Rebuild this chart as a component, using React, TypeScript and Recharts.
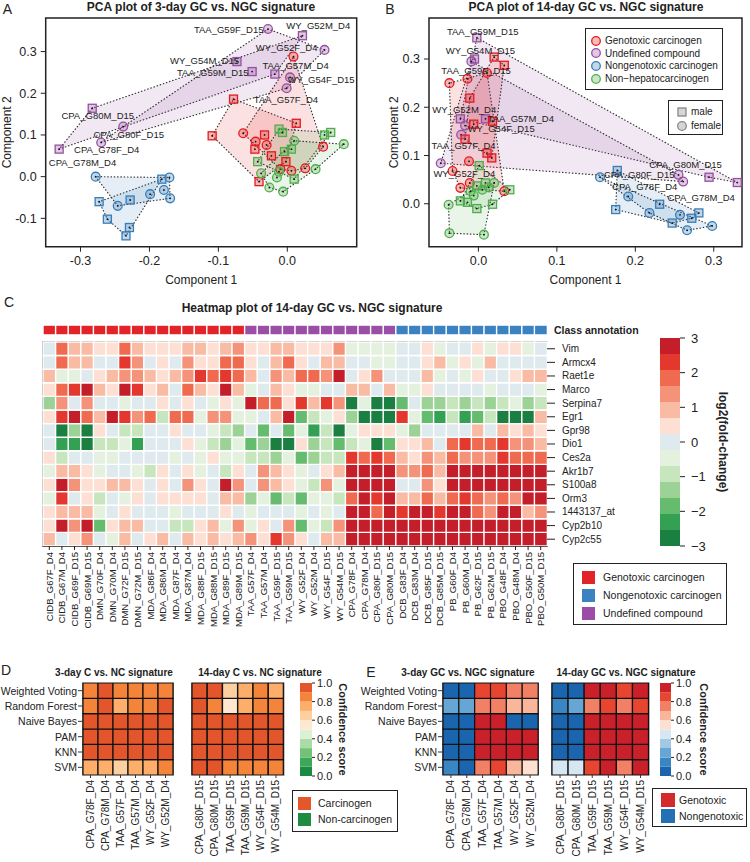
import React from 'react';
import { ScatterChart, Scatter, XAxis, YAxis, ReferenceArea, BarChart, Bar, Cell, Legend } from 'recharts';

const FONT = '"Liberation Sans", Arial, Helvetica, sans-serif';
const INK = '#222';
const RED = '#e41a1c';
const PURPLE = '#984ea3';
const BLUE = '#377eb8';
const GREEN = '#4daf4a';

// ---------------- PCA data (Component 1, Component 2, sex) ----------------
const p = (x, y, sex) => ({ x, y, sex });

const pcaA_genotoxic = [
  p(-0.078, 0.186, 'M'), p(0.013, 0.128, 'M'), p(-0.109, 0.098, 'M'), p(-0.033, 0.1, 'M'),
  p(-0.047, 0.066, 'M'), p(-0.023, 0.05, 'M'), p(-0.002, 0.036, 'M'), p(-0.041, -0.012, 'M'),
  p(0.009, 0.288, 'F'), p(-0.064, 0.104, 'F'), p(-0.046, 0.084, 'F'), p(-0.03, 0.076, 'F'),
  p(0.052, 0.072, 'F'), p(-0.01, 0.018, 'F'), p(0.006, 0.014, 'F'), p(0.026, 0.02, 'F'),
];
const pcaA_undefined = [
  p(0.022, 0.338, 'M'), p(-0.073, 0.276, 'M'), p(-0.051, 0.252, 'M'), p(-0.018, 0.246, 'M'),
  p(-0.283, 0.164, 'M'), p(-0.331, 0.066, 'M'),
  p(-0.028, 0.354, 'F'), p(0.054, 0.304, 'F'), p(0.004, 0.238, 'F'), p(-0.001, 0.212, 'F'),
  p(-0.238, 0.12, 'F'), p(-0.27, 0.082, 'F'),
];
const pcaA_nongenotoxic = [
  p(-0.278, 0.0, 'F'), p(-0.171, -0.002, 'F'), p(-0.179, -0.032, 'F'), p(-0.199, -0.042, 'F'),
  p(-0.17, -0.052, 'F'), p(-0.246, -0.07, 'F'),
  p(-0.182, -0.006, 'M'), p(-0.273, -0.06, 'M'), p(-0.228, -0.056, 'M'), p(-0.261, -0.102, 'M'),
  p(-0.229, -0.122, 'M'), p(-0.234, -0.142, 'M'),
];
const pcaA_nonhep = [
  p(-0.012, 0.114, 'M'), p(-0.007, 0.106, 'M'), p(0.054, 0.1, 'M'), p(0.063, 0.106, 'M'),
  p(0.006, 0.066, 'M'), p(-0.004, 0.06, 'M'), p(-0.043, 0.036, 'M'), p(0.01, -0.006, 'M'),
  p(0.01, 0.086, 'F'), p(0.082, 0.078, 'F'), p(0.041, 0.018, 'F'), p(-0.038, 0.008, 'F'),
  p(-0.015, -0.002, 'F'), p(-0.026, -0.026, 'F'), p(-0.006, -0.036, 'F'), p(-0.012, 0.012, 'F'),
];
const pcaA_labels = [
  { name: 'TAA_G59F_D15', x: -0.085, y: 0.354 },
  { name: 'WY_G52M_D4', x: 0.045, y: 0.362 },
  { name: 'WY_G52F_D4', x: -0.001, y: 0.31 },
  { name: 'WY_G54M_D15', x: -0.12, y: 0.278 },
  { name: 'TAA_G59M_D15', x: -0.108, y: 0.25 },
  { name: 'TAA_G57M_D4', x: 0.012, y: 0.266 },
  { name: 'WY_G54F_D15', x: 0.049, y: 0.234 },
  { name: 'TAA_G57F_D4', x: -0.002, y: 0.186 },
  { name: 'CPA_G80M_D15', x: -0.275, y: 0.146 },
  { name: 'CPA_G80F_D15', x: -0.23, y: 0.1 },
  { name: 'CPA_G78F_D4', x: -0.262, y: 0.064 },
  { name: 'CPA_G78M_D4', x: -0.297, y: 0.034 },
];

const pcaB_genotoxic = [
  p(0.02, 0.304, 'M'), p(0.033, 0.287, 'M'), p(-0.011, 0.219, 'M'), p(-0.017, 0.134, 'M'),
  p(-0.006, 0.165, 'M'), p(0.018, 0.171, 'M'), p(0.011, 0.105, 'M'), p(0.017, 0.095, 'M'),
  p(-0.037, 0.25, 'F'), p(-0.014, 0.259, 'F'), p(0.011, 0.271, 'F'), p(-0.012, 0.088, 'F'),
  p(-0.033, 0.068, 'F'), p(-0.011, 0.043, 'F'), p(-0.023, 0.033, 'F'), p(0.033, 0.026, 'F'),
];
const pcaB_undefined = [
  p(-0.002, 0.344, 'M'), p(-0.005, 0.3, 'M'), p(-0.023, 0.176, 'M'), p(0.009, 0.176, 'M'),
  p(0.294, 0.055, 'M'), p(0.33, 0.044, 'M'),
  p(-0.009, 0.295, 'F'), p(-0.017, 0.162, 'F'), p(-0.022, 0.143, 'F'), p(-0.048, 0.084, 'F'),
  p(0.255, 0.06, 'F'), p(0.261, 0.046, 'F'),
];
const pcaB_nongenotoxic = [
  p(0.177, 0.069, 'M'), p(0.175, -0.012, 'M'), p(0.231, -0.001, 'M'), p(0.247, -0.04, 'M'),
  p(0.272, -0.03, 'M'), p(0.281, -0.019, 'M'),
  p(0.155, 0.055, 'F'), p(0.191, 0.015, 'F'), p(0.218, -0.019, 'F'), p(0.257, -0.023, 'F'),
  p(0.266, -0.055, 'F'), p(0.298, -0.046, 'F'),
];
const pcaB_nonhep = [
  p(0.001, 0.079, 'M'), p(-0.002, 0.037, 'M'), p(0.009, 0.043, 'M'), p(0.04, 0.029, 'M'),
  p(-0.023, 0.006, 'M'), p(-0.014, 0.003, 'M'), p(-0.002, -0.01, 'M'), p(0.018, -0.001, 'M'),
  p(-0.006, 0.017, 'F'), p(0.005, 0.029, 'F'), p(0.02, 0.043, 'F'), p(-0.038, -0.002, 'F'),
  p(-0.037, -0.061, 'F'), p(0.007, -0.064, 'F'), p(0.013, 0.034, 'F'), p(-0.01, 0.026, 'F'),
];
const pcaB_labels = [
  { name: 'TAA_G59M_D15', x: 0.0055, y: 0.357 },
  { name: 'WY_G54M_D15', x: 0.0026, y: 0.318 },
  { name: 'TAA_G59F_D15', x: -0.003, y: 0.276 },
  { name: 'WY_G52M_D4', x: -0.018, y: 0.195 },
  { name: 'TAA_G57M_D4', x: 0.054, y: 0.176 },
  { name: 'WY_G54F_D15', x: 0.029, y: 0.155 },
  { name: 'TAA_G57F_D4', x: -0.019, y: 0.121 },
  { name: 'WY_G52F_D4', x: -0.018, y: 0.062 },
  { name: 'CPA_G80M_D15', x: 0.264, y: 0.082 },
  { name: 'CPA_G80F_D15', x: 0.205, y: 0.06 },
  { name: 'CPA_G78F_D4', x: 0.212, y: 0.036 },
  { name: 'CPA_G78M_D4', x: 0.284, y: 0.012 },
];

const classLegendItems = [
  { label: 'Genotoxic carcinogen', color: RED },
  { label: 'Undefined compound', color: PURPLE },
  { label: 'Nongenotoxic carcinogen', color: BLUE },
  { label: 'Non\u2212hepatocarcinogen', color: GREEN },
];

// ---------------- Heatmap data ----------------
const genes = ['Vim', 'Armcx4', 'Raet1e', 'Marco', 'Serpina7', 'Egr1', 'Gpr98', 'Dio1', 'Ces2a', 'Akr1b7', 'S100a8', 'Orm3', '1443137_at', 'Cyp2b10', 'Cyp2c55'];
const samples = [
  'CIDB_G67F_D4', 'CIDB_G67M_D4', 'CIDB_G69F_D15', 'CIDB_G69M_D15', 'DMN_G70F_D4', 'DMN_G70M_D4', 'DMN_G72F_D15', 'DMN_G72M_D15',
  'MDA_G86F_D4', 'MDA_G86M_D4', 'MDA_G87F_D4', 'MDA_G87M_D4', 'MDA_G88F_D15', 'MDA_G88M_D15', 'MDA_G89F_D15', 'MDA_G89M_D15',
  'TAA_G57F_D4', 'TAA_G57M_D4', 'TAA_G59F_D15', 'TAA_G59M_D15', 'WY_G52F_D4', 'WY_G52M_D4', 'WY_G54F_D15', 'WY_G54M_D15',
  'CPA_G78F_D4', 'CPA_G78M_D4', 'CPA_G80F_D15', 'CPA_G80M_D15', 'DCB_G83F_D4', 'DCB_G83M_D4', 'DCB_G85F_D15', 'DCB_G85M_D15',
  'PB_G60F_D4', 'PB_G60M_D4', 'PB_G62F_D15', 'PB_G62M_D15', 'PBO_G48F_D4', 'PBO_G48M_D4', 'PBO_G50F_D15', 'PBO_G50M_D15',
];
const sampleClass = [
  'G', 'G', 'G', 'G', 'G', 'G', 'G', 'G', 'G', 'G', 'G', 'G', 'G', 'G', 'G', 'G',
  'U', 'U', 'U', 'U', 'U', 'U', 'U', 'U', 'U', 'U', 'U', 'U',
  'N', 'N', 'N', 'N', 'N', 'N', 'N', 'N', 'N', 'N', 'N', 'N',
];
const fcVim = [0, 1.8, 0.9, 0.9, 0.5, 0.5, 1.8, 0.9, 0.5, 0.5, 0.5, 0.9, 0.9, 0.5, 0.9, 1.4, 0.5, 0.5, 0.9, 0.9, 0.5, 0.5, 0.5, 1.4, -0.5, -0.5, -0.5, -0.5, 0, 0, 0.5, -0.5, 0, 0, 0.5, -0.5, 0.5, 0.5, -0.5, 0];
const fcArmcx4 = [0, 1.8, 0.9, 0.9, 0, 0, 2.3, 1.4, 0, 0.5, 0, 1.4, 0.5, 0.5, 1.8, 1.8, 0.5, 0, 0.9, 1.8, 0.5, 0, 0.9, 0.9, 0, 0, -0.5, -0.5, 0, 0, 0.5, 0.9, -0.5, 0.5, -0.5, 0.9, 0, 0, 0, 0];
const fcRaet1e = [0.9, -0.5, -0.5, 0, 0.5, 0.9, 1.4, 1.4, 0.9, 0.5, 0.9, 1.4, 2.3, 1.8, 2.3, 1.8, 0.9, 0, 1.4, 0.9, 1.8, 1.8, 1.4, 2.8, 0, 0.5, 1.4, 0, 0, 0, 0.9, -0.5, 0, -0.5, 0.5, 0, 0, 0.5, 0.9, 0.9];
const fcMarco = [0.5, 1.8, 2.3, 2.8, 0.9, 0.5, 2.8, 2.3, 0.5, 0.9, 0, 1.8, 0.9, 0.5, 2.8, 0.9, -0.5, 0, 0.9, 0.5, -0.5, -0.5, 0, 0, 0.9, 0.9, 0, 0.9, -0.5, -0.5, 0.5, 0, 0, 0, 0, -0.5, 0, 0, 0, -0.5];
const fcSerpina7 = [-1.4, 1.4, 0, 1.4, 0, 0, -0.5, 0, 0, 0.5, 0, 0.5, 0, -0.5, 0.5, -0.5, 2.8, 1.8, 1.8, 0.5, 2.3, 0.9, 2.3, 1.4, -2.8, -0.5, -2.8, -2.8, -2.0, 0, -1.4, -1.4, -0.9, -1.4, -0.9, -1.4, -0.9, -0.5, -1.4, -0.9];
const fcEgr1 = [0.5, 2.3, 2.8, 1.8, 0.9, 2.8, 2.3, 1.4, 1.8, -0.9, 1.8, 1.8, -0.5, 1.4, 1.4, -0.5, -0.5, 0, 0.9, 2.8, -2.0, -0.9, -0.5, 0.5, -1.4, -2.8, -2.8, -2.8, 2.3, -0.5, -2.0, -2.3, -0.9, -2.3, -2.0, -0.9, -2.8, -2.8, -2.8, 0.9];
const fcGpr98 = [0, -2.8, -1.4, -2.8, 0.5, 0, -0.9, -0.9, 0, 0, 0.5, 0, 0, -0.5, -0.9, -1.4, 0, -2.0, 0, -2.0, -0.5, -2.3, -0.9, -2.8, -0.5, 0.5, 0.5, 0.5, -0.5, -1.4, 0, 0, 0, 0, 0.9, 0, 0.9, 0.5, 0.9, 0.5];
const fcDio1 = [0, -2.3, -2.3, -2.8, -0.9, -0.9, -0.5, -2.3, 0, 0, 0, 0.5, -0.5, -0.9, -1.4, -0.5, -2.0, -1.4, -2.8, -2.8, 0.5, -1.4, -0.9, -2.0, -0.9, -0.5, -2.8, -2.0, 0.5, 0.5, 0.9, 0, 1.8, 2.3, 1.8, 1.8, 2.3, 1.4, 1.4, 0.9];
const fcCes2a = [0.5, -0.9, 0, 0, -0.5, -0.5, 0, 0, 0, 0, -0.5, 0, -0.5, 0.5, -0.5, -0.5, -0.9, -0.9, -1.4, -0.5, -2.0, -1.4, -0.9, -0.9, 2.3, 1.8, 2.3, 1.8, 0.9, 0.5, 1.4, 0.9, 1.8, 1.4, 1.4, 1.4, 2.3, 1.8, 1.8, 1.8];
const fcAkr1b7 = [-0.5, 0.9, 0.9, 0.5, -0.5, 0, 0, -0.5, -0.9, 0.5, 0, 0.5, -0.5, 0, -0.9, 0.5, 0, 1.4, 0.9, 0.5, -0.5, 0, 0.5, 0.9, 2.8, 2.8, 2.8, 2.8, 1.4, 1.4, 1.8, 0.9, 2.8, 2.8, 2.8, 2.8, 2.8, 2.8, 2.8, 2.8];
const fcS100a8 = [0.5, 2.8, 1.4, 0.5, 0.5, 0.9, 0.9, 0.5, 0, 0.5, 0, 1.4, 0.5, 0, 2.8, 1.4, 0, 1.4, 0.9, 0.5, -0.5, -0.9, 1.4, -0.5, 2.8, 2.8, 2.8, 2.8, 0, 0, 1.4, 0.5, 2.8, 2.8, 2.8, 2.8, 2.8, 2.8, 2.8, 2.8];
const fcOrm3 = [-0.5, 2.3, 0, 0.5, -0.9, 0, -0.5, 0.5, 0, 0.5, 0.5, 0.5, 0.5, 0, 0.9, 0.9, -1.4, -0.5, -2.0, -0.9, -2.0, -0.5, -0.5, -0.9, 1.8, 2.8, 2.3, 2.8, 0.9, 0.9, 1.8, 0.9, 1.8, 2.3, 1.8, 1.4, 1.8, 1.4, 2.8, 2.8];
const fc1443137 = [0.5, 0.9, 0.9, 0.9, -0.5, 0, 0.5, 0, 0, 0, -0.5, 0, 0, 0, 0.5, 0, -0.5, 0, 0, 0, -0.5, 0, -0.5, 0, 2.8, 2.8, 1.8, 2.8, 2.3, 2.8, 2.8, 2.3, 2.8, 2.8, 1.8, 1.4, 2.8, 2.8, 0.9, 1.4];
const fcCyp2b10 = [0.5, 2.8, 1.4, 2.8, -2.0, 0.5, 0.9, 0.9, 0, 0, -0.9, -0.9, 0.5, 0.9, -0.5, 1.4, -0.5, 0.5, 0, 1.4, -2.0, -0.5, -0.9, 1.4, 2.8, 2.8, 2.8, 2.8, 2.8, 2.8, 2.8, 2.8, 2.8, 2.8, 2.8, 2.8, 2.8, 2.8, 2.8, 2.8];
const fcCyp2c55 = [0.9, 0, 0.5, 1.4, 0, -0.5, 0.9, 0, 0.5, 0.9, 0, 0.9, 0.5, 0.9, 0.5, 0.9, 1.4, 0.5, 2.3, 1.4, 0.5, 0, 0.9, 0.9, 2.8, 2.8, 2.8, 2.8, 2.8, 2.8, 2.8, 2.8, 2.8, 2.8, 2.8, 2.8, 2.8, 2.8, 2.8, 2.8];
const heatRows = [fcVim, fcArmcx4, fcRaet1e, fcMarco, fcSerpina7, fcEgr1, fcGpr98, fcDio1, fcCes2a, fcAkr1b7, fcS100a8, fcOrm3, fc1443137, fcCyp2b10, fcCyp2c55];

const heatSteps = ['#1a7f40', '#33a054', '#66bc6e', '#9cd295', '#c8e6be', '#e4f1de', '#dfeaee', '#fde0d3', '#f9bba3', '#f4937a', '#ef6a4f', '#e4382e', '#c41e2a'];
const heatTicks = [0, 1, 2, 3, 4, 5, 6];
const classColor = { G: '#e3232a', U: '#9b4ea6', N: '#3b82c0' };
const heatLegendItems = [
  { label: 'Genotoxic carcinogen', color: '#e3232a' },
  { label: 'Nongenotoxic carcinogen', color: '#3b82c0' },
  { label: 'Undefined compound', color: '#9b4ea6' },
];

// ---------------- Classifier confidence data ----------------
const methods = ['Weighted Voting', 'Random Forest', 'Naive Bayes', 'PAM', 'KNN', 'SVM'];
const samples3day = ['CPA_G78F_D4', 'CPA_G78M_D4', 'TAA_G57F_D4', 'TAA_G57M_D4', 'WY_G52F_D4', 'WY_G52M_D4'];
const samples14day = ['CPA_G80F_D15', 'CPA_G80M_D15', 'TAA_G59F_D15', 'TAA_G59M_D15', 'WY_G54F_D15', 'WY_G54M_D15'];
const scoresC3 = [
  [0.85, 0.95, 0.85, 0.85, 0.85, 0.85],
  [0.85, 0.95, 0.75, 0.82, 0.85, 0.95],
  [0.95, 0.95, 0.95, 0.95, 0.95, 0.95],
  [0.95, 0.95, 0.95, 0.95, 0.95, 0.95],
  [0.95, 0.95, 0.95, 0.95, 0.95, 0.95],
  [0.75, 0.78, 0.65, 0.72, 0.74, 0.82],
];
const scoresC14 = [
  [0.95, 0.95, 0.6, 0.78, 0.82, 0.78],
  [0.95, 0.86, 0.56, 0.7, 0.86, 0.84],
  [0.95, 0.95, 0.95, 0.95, 0.95, 0.95],
  [0.95, 0.95, 0.95, 0.95, 0.95, 0.95],
  [0.95, 0.95, 0.95, 0.95, 0.95, 0.95],
  [0.95, 0.95, 0.85, 0.84, 0.84, 0.85],
];
const scoresGC3 = [
  [0.05, 0.05, 0.85, 0.85, 0.76, 0.74],
  [0.25, 0.27, 0.74, 0.76, 0.64, 0.65],
  [0.05, 0.05, 0.95, 0.95, 0.05, 0.05],
  [0.05, 0.05, 0.95, 0.95, 0.95, 0.95],
  [0.05, 0.05, 0.95, 0.95, 0.95, 0.95],
  [0.18, 0.05, 0.75, 0.84, 0.64, 0.56],
];
const scoresGC14 = [
  [0.05, 0.05, 0.95, 0.95, 0.88, 0.95],
  [0.18, 0.26, 0.76, 0.86, 0.78, 0.86],
  [0.05, 0.05, 0.95, 0.95, 0.95, 0.95],
  [0.05, 0.05, 0.95, 0.95, 0.95, 0.95],
  [0.05, 0.05, 0.95, 0.95, 0.95, 0.95],
  [0.42, 0.44, 0.86, 0.95, 0.78, 0.95],
];
const orangeSteps = ['#1b8a42', '#3ea85a', '#74c277', '#abdca6', '#dcf0d6', '#fee8d0', '#fdd0a2', '#fdae6b', '#f4843a', '#e3552a'];
const blueRedSteps = ['#1a65ad', '#3a86c2', '#65a6d4', '#a2c8e4', '#d6e6f2', '#fde0d0', '#f9b69a', '#f28064', '#e84530', '#c9202a'];
const scoreTicks = [0, 0.2, 0.4, 0.6, 0.8, 1.0];
const carcLegendItems = [
  { label: 'Carcinogen', color: '#e5562b' },
  { label: 'Non-carcinogen', color: '#1f8a42' },
];
const genoLegendItems = [
  { label: 'Genotoxic', color: '#d42a2c' },
  { label: 'Nongenotoxic', color: '#2370b5' },
];

// ---------------- helpers ----------------
const fmt1 = (v) => (Math.abs(v) < 1e-9 ? '0.0' : v.toFixed(1));

function convexHull(pts) {
  const s = [...pts].sort((a, b) => a.x - b.x || a.y - b.y);
  const cross = (o, a, b) => (a.x - o.x) * (b.y - o.y) - (a.y - o.y) * (b.x - o.x);
  const lower = [];
  for (const q of s) {
    while (lower.length >= 2 && cross(lower[lower.length - 2], lower[lower.length - 1], q) <= 0) lower.pop();
    lower.push(q);
  }
  const upper = [];
  for (const q of [...s].reverse()) {
    while (upper.length >= 2 && cross(upper[upper.length - 2], upper[upper.length - 1], q) <= 0) upper.pop();
    upper.push(q);
  }
  upper.pop();
  lower.pop();
  return lower.concat(upper);
}

const hullLine = (color) => (props) => {
  const pts = (props.points || []).filter((q) => q && q.x != null && q.y != null);
  return (
    <polygon
      points={pts.map((q) => `${q.x},${q.y}`).join(' ')}
      fill={color}
      fillOpacity={0.13}
      stroke="#333"
      strokeWidth={1.2}
      strokeDasharray="0.5 2.8"
      strokeLinecap="round"
    />
  );
};
const noShape = () => <g />;
const marker = (color) => (props) => {
  const { cx, cy } = props;
  if (cx == null || cy == null) return <g />;
  const sex = (props.payload && props.payload.sex) || props.sex;
  return (
    <g>
      {sex === 'M' ? (
        <rect x={cx - 4} y={cy - 4} width={8} height={8} fill={color} fillOpacity={0.3} stroke={color} strokeWidth={1.3} />
      ) : (
        <circle cx={cx} cy={cy} r={4.4} fill={color} fillOpacity={0.3} stroke={color} strokeWidth={1.3} />
      )}
      <circle cx={cx} cy={cy} r={0.9} fill="#111" />
    </g>
  );
};
const labelShape = (props) => {
  const { cx, cy } = props;
  const name = (props.payload && props.payload.name) || props.name;
  return (
    <text x={cx} y={cy} textAnchor="middle" dominantBaseline="central" fontSize={9.5} fill={INK} fontFamily={FONT}>
      {name}
    </text>
  );
};

const VTick = (props) => {
  const { x, y, payload, fs } = props;
  return (
    <text x={x} y={y} transform={`rotate(-90 ${x} ${y})`} textAnchor="end" dominantBaseline="central" fontSize={fs} fill={INK} fontFamily={FONT}>
      {payload.value}
    </text>
  );
};

const stepColor = (steps, lo, hi, v) => {
  const n = steps.length;
  const idx = Math.min(n - 1, Math.max(0, Math.floor(((v - lo) / (hi - lo)) * n)));
  return steps[idx];
};
const heatColor = (v) => stepColor(heatSteps, -3, 3, v);

const Txt = ({ x, y, size, bold, anchor, children }) => (
  <div
    style={{
      position: 'absolute',
      left: x,
      top: y,
      transform: `translate(${anchor === 'start' ? '0' : '-50%'}, -50%)`,
      whiteSpace: 'nowrap',
      fontSize: size,
      fontWeight: bold ? 700 : 400,
      lineHeight: 1.15,
      color: INK,
    }}
  >
    {children}
  </div>
);

const SwatchLegend = ({ items, w, h, fontSize, sw, rowH, padTop, padLeft, textGap }) => (
  <div
    style={{
      width: w,
      height: h,
      boxSizing: 'border-box',
      border: '1px solid #222',
      background: '#fff',
      padding: `${padTop}px 0 0 ${padLeft}px`,
      fontFamily: FONT,
      fontSize,
      color: INK,
    }}
  >
    {items.map((it) => (
      <div key={it.label} style={{ display: 'flex', alignItems: 'center', height: rowH, whiteSpace: 'nowrap' }}>
        <span style={{ display: 'inline-block', width: sw, height: sw, background: it.color }} />
        <span style={{ marginLeft: textGap }}>{it.label}</span>
      </div>
    ))}
  </div>
);

const PcaLegendB = () => (
  <div style={{ position: 'relative', width: 375, height: 290, fontFamily: FONT, color: INK }}>
    <div style={{ position: 'absolute', left: 210, top: 28, width: 138, height: 62, border: '1px solid #222', background: '#fff', boxSizing: 'border-box' }}>
      {classLegendItems.map((it, i) => (
        <div key={it.label} style={{ position: 'absolute', left: 4, top: 5 + i * 12.7, height: 13, display: 'flex', alignItems: 'center', fontSize: 10, whiteSpace: 'nowrap' }}>
          <svg width={12} height={12}>
            <circle cx={6} cy={6} r={4.3} fill={it.color} fillOpacity={0.3} stroke={it.color} strokeWidth={1.3} />
          </svg>
          <span style={{ marginLeft: 3 }}>{it.label}</span>
        </div>
      ))}
    </div>
    <div style={{ position: 'absolute', left: 293, top: 100, width: 55, height: 35, border: '1px solid #222', background: '#fff', boxSizing: 'border-box' }}>
      {['male', 'female'].map((s, i) => (
        <div key={s} style={{ position: 'absolute', left: 7, top: 4 + i * 14, height: 13, display: 'flex', alignItems: 'center', fontSize: 10, whiteSpace: 'nowrap' }}>
          <svg width={12} height={12}>
            {s === 'male' ? (
              <rect x={2} y={2} width={8} height={8} fill="#bbb" fillOpacity={0.6} stroke="#888" strokeWidth={1.3} />
            ) : (
              <circle cx={6} cy={6} r={4.3} fill="#bbb" fillOpacity={0.6} stroke="#888" strokeWidth={1.3} />
            )}
          </svg>
          <span style={{ marginLeft: 3 }}>{s}</span>
        </div>
      ))}
    </div>
  </div>
);

function PcaChart({ groups, labels, xDomain, yDomain, xTicks, yTicks, yAxisWidth, marginRight, yLabelOffset, legend }) {
  const hulls = [];
  groups.forEach((g) => {
    ['M', 'F'].forEach((sx) => {
      const pts = g.data.filter((d) => d.sex === sx);
      if (pts.length >= 3) hulls.push({ color: g.color, pts: convexHull(pts) });
    });
  });
  return (
    <ScatterChart width={375} height={290} margin={{ top: 18, right: marginRight, bottom: 0, left: 0 }}>
      <XAxis
        type="number"
        dataKey="x"
        domain={xDomain}
        allowDataOverflow
        ticks={xTicks}
        interval={0}
        tickFormatter={fmt1}
        height={43.3}
        axisLine={false}
        tickSize={5}
        tickMargin={4}
        tickLine={{ stroke: INK }}
        tick={{ fontSize: 12.5, fill: INK }}
        label={{ value: 'Component 1', position: 'insideBottom', offset: 6, fontSize: 12, fill: INK }}
      />
      <YAxis
        type="number"
        dataKey="y"
        domain={yDomain}
        allowDataOverflow
        ticks={yTicks}
        interval={0}
        tickFormatter={fmt1}
        width={yAxisWidth}
        axisLine={false}
        tickSize={5}
        tickMargin={4}
        tickLine={{ stroke: INK }}
        tick={{ fontSize: 12.5, fill: INK }}
        label={{ value: 'Component 2', angle: -90, position: 'insideLeft', offset: yLabelOffset, fontSize: 12, fill: INK, style: { textAnchor: 'middle' } }}
      />
      {hulls.map((h, i) => (
        <Scatter key={'h' + i} data={h.pts} line={hullLine(h.color)} shape={noShape} isAnimationActive={false} />
      ))}
      {groups.map((g) => (
        <Scatter key={g.key} data={g.data} shape={marker(g.color)} isAnimationActive={false} />
      ))}
      <Scatter data={labels} shape={labelShape} isAnimationActive={false} />
      <ReferenceArea x1={xDomain[0]} x2={xDomain[1]} y1={yDomain[0]} y2={yDomain[1]} fill="none" stroke={INK} strokeWidth={1.5} ifOverflow="visible" />
      {legend}
    </ScatterChart>
  );
}

function Heatmap() {
  const data = samples.map((s) => {
    const row = { sample: s, gap: 0.52, ann: 0.72 };
    genes.forEach((_, g) => {
      row['r' + g] = 1;
    });
    return row;
  });
  const bottomUp = genes.map((_, g) => g).reverse();
  const rowTicks = genes.map((_, g) => 14.5 - g);
  return (
    <BarChart width={750} height={350} data={data} margin={{ top: 25.1, right: 128, bottom: 4, left: 43 }} barCategoryGap={0} barGap={0}>
      <XAxis dataKey="sample" interval={0} height={100} tickSize={4} tickMargin={2} axisLine={false} tickLine={{ stroke: INK }} tick={(pr) => <VTick {...pr} fs={9.5} />} />
      <YAxis
        orientation="right"
        type="number"
        domain={[0, 16.24]}
        allowDataOverflow
        ticks={rowTicks}
        interval={0}
        width={75}
        tickSize={8}
        tickMargin={7}
        axisLine={false}
        tickLine={{ stroke: INK }}
        tick={(pr) => (
          <text x={pr.x} y={pr.y} textAnchor="start" dominantBaseline="central" fontSize={10} fill={INK} fontFamily={FONT}>
            {genes[Math.round(14.5 - pr.payload.value)]}
          </text>
        )}
      />
      {bottomUp.map((g) => (
        <Bar key={g} dataKey={'r' + g} stackId="h" isAnimationActive={false} stroke="#fff" strokeWidth={1.4}>
          {samples.map((s, i) => (
            <Cell key={i} fill={heatColor(heatRows[g][i])} />
          ))}
        </Bar>
      ))}
      <Bar dataKey="gap" stackId="h" fill="none" isAnimationActive={false} />
      <Bar dataKey="ann" stackId="h" stroke="#fff" strokeWidth={1.4} isAnimationActive={false}>
        {sampleClass.map((c, i) => (
          <Cell key={i} fill={classColor[c]} />
        ))}
      </Bar>
      <ReferenceArea x1={samples[0]} x2={samples[samples.length - 1]} y1={0} y2={15} fill="none" stroke={INK} strokeWidth={1.5} ifOverflow="visible" />
      <Legend
        verticalAlign="middle"
        align="center"
        layout="horizontal"
        wrapperStyle={{ left: 573, top: 263, width: 154, height: 62 }}
        content={() => <SwatchLegend items={heatLegendItems} w={154} h={62} fontSize={10.5} sw={13} rowH={18} padTop={4} padLeft={8} textGap={8} />}
      />
    </BarChart>
  );
}

function ColorBar({ left, top, width, height, margin, axisWidth, steps, max, ticks, fmt, label, labelOffset, tickSize, tickMargin, tickFont, labelFont, legend }) {
  const n = steps.length;
  const row = { k: 'bar' };
  steps.forEach((_, i) => {
    row['b' + i] = max / n;
  });
  return (
    <div style={{ position: 'absolute', left, top }}>
      <BarChart width={width} height={height} data={[row]} margin={margin} barCategoryGap={0}>
        <XAxis dataKey="k" hide />
        <YAxis
          orientation="right"
          type="number"
          domain={[0, max]}
          allowDataOverflow
          ticks={ticks}
          interval={0}
          tickFormatter={fmt}
          width={axisWidth}
          axisLine={false}
          tickSize={tickSize}
          tickMargin={tickMargin}
          tickLine={{ stroke: INK }}
          tick={{ fontSize: tickFont, fill: INK }}
          label={{ value: label, angle: 90, position: 'insideRight', offset: labelOffset, fontSize: labelFont, fontWeight: 700, fill: INK, style: { textAnchor: 'middle', fontWeight: 700 } }}
        />
        {steps.map((c, i) => (
          <Bar key={i} dataKey={'b' + i} stackId="cb" fill={c} isAnimationActive={false} />
        ))}
        {legend}
      </BarChart>
    </div>
  );
}

function ScoreHeatmap({ plotLeft, plotW, names, scores, steps, showLabels }) {
  const axisW = showLabels ? 86 : 10;
  const containerLeft = plotLeft - axisW;
  const W = axisW + plotW + 8;
  const data = names.map((s) => {
    const row = { sample: s };
    methods.forEach((_, m) => {
      row['m' + m] = 1;
    });
    return row;
  });
  const bottomUp = methods.map((_, m) => m).reverse();
  const rowTicks = methods.map((_, m) => 5.5 - m);
  return (
    <div style={{ position: 'absolute', left: containerLeft, top: 660 }}>
      <BarChart width={W} height={200} data={data} margin={{ top: 23, right: 8, bottom: 5, left: 0 }} barCategoryGap={0} barGap={0}>
        <XAxis dataKey="sample" interval={0} height={80} tickSize={3} tickMargin={2} axisLine={false} tickLine={{ stroke: '#333' }} tick={(pr) => <VTick {...pr} fs={10} />} />
        <XAxis xAxisId="top" orientation="top" dataKey="sample" interval={0} height={0} tick={false} tickSize={3} axisLine={false} tickLine={{ stroke: '#333' }} />
        <YAxis
          type="number"
          domain={[0, 6]}
          allowDataOverflow
          ticks={rowTicks}
          interval={0}
          width={axisW}
          tick={
            showLabels
              ? (pr) => (
                  <text x={pr.x} y={pr.y} textAnchor="end" dominantBaseline="central" fontSize={10.5} fill={INK} fontFamily={FONT}>
                    {methods[Math.round(5.5 - pr.payload.value)]}
                  </text>
                )
              : false
          }
          tickSize={5}
          tickMargin={1}
          axisLine={false}
          tickLine={{ stroke: '#333' }}
        />
        <YAxis yAxisId="r" orientation="right" type="number" domain={[0, 6]} allowDataOverflow ticks={rowTicks} interval={0} width={0} tick={false} tickSize={3} axisLine={false} tickLine={{ stroke: '#333' }} />
        {bottomUp.map((m) => (
          <Bar key={m} dataKey={'m' + m} stackId="s" stroke="#111" strokeWidth={1.2} isAnimationActive={false}>
            {names.map((s, i) => (
              <Cell key={i} fill={stepColor(steps, 0, 1, scores[m][i])} />
            ))}
          </Bar>
        ))}
        <ReferenceArea x1={names[0]} x2={names[names.length - 1]} y1={0} y2={6} fill="none" stroke="#666" strokeWidth={1.6} ifOverflow="visible" />
      </BarChart>
    </div>
  );
}

export default function App() {
  const heatFmt = (v) => {
    const t = v - 3;
    return t < 0 ? '\u2212' + Math.abs(t) : String(t);
  };
  return (
    <div style={{ position: 'absolute', left: 0, top: 0, width: 750, height: 862, background: '#fff', fontFamily: FONT, color: INK, overflow: 'hidden' }}>
      {/* Panel A */}
      <div style={{ position: 'absolute', left: 0, top: 0 }}>
        <PcaChart
          groups={[
            { key: 'und', color: PURPLE, data: pcaA_undefined },
            { key: 'gen', color: RED, data: pcaA_genotoxic },
            { key: 'ngc', color: BLUE, data: pcaA_nongenotoxic },
            { key: 'nh', color: GREEN, data: pcaA_nonhep },
          ]}
          labels={pcaA_labels}
          xDomain={[-0.3505, 0.1007]}
          yDomain={[-0.168, 0.3805]}
          xTicks={[-0.3, -0.2, -0.1, 0]}
          yTicks={[-0.1, 0, 0.1, 0.2, 0.3]}
          yAxisWidth={45.7}
          marginRight={18.3}
          yLabelOffset={7}
          legend={null}
        />
      </div>
      {/* Panel B */}
      <div style={{ position: 'absolute', left: 375, top: 0 }}>
        <PcaChart
          groups={[
            { key: 'und', color: PURPLE, data: pcaB_undefined },
            { key: 'gen', color: RED, data: pcaB_genotoxic },
            { key: 'ngc', color: BLUE, data: pcaB_nongenotoxic },
            { key: 'nh', color: GREEN, data: pcaB_nonhep },
          ]}
          labels={pcaB_labels}
          xDomain={[-0.063, 0.336]}
          yDomain={[-0.089, 0.385]}
          xTicks={[0, 0.1, 0.2, 0.3]}
          yTicks={[0, 0.1, 0.2, 0.3]}
          yAxisWidth={54}
          marginRight={8}
          yLabelOffset={19}
          legend={
            <Legend verticalAlign="middle" align="center" layout="horizontal" wrapperStyle={{ left: 0, top: 0, width: 375, height: 290, pointerEvents: 'none' }} content={() => <PcaLegendB />} />
          }
        />
      </div>

      {/* Panel C */}
      <div style={{ position: 'absolute', left: 0, top: 300 }}>
        <Heatmap />
      </div>
      <ColorBar
        left={640}
        top={320}
        width={110}
        height={240}
        margin={{ top: 18, right: 20, bottom: 14, left: 20 }}
        axisWidth={50}
        steps={heatSteps}
        max={6}
        ticks={heatTicks}
        fmt={heatFmt}
        label="log2(fold-change)"
        labelOffset={7}
        tickSize={5}
        tickMargin={6}
        tickFont={13}
        labelFont={12}
        legend={null}
      />

      {/* Panels D & E */}
      <ScoreHeatmap plotLeft={83.3} plotW={90} names={samples3day} scores={scoresC3} steps={orangeSteps} showLabels />
      <ScoreHeatmap plotLeft={191.7} plotW={91.6} names={samples14day} scores={scoresC14} steps={orangeSteps} showLabels={false} />
      <ColorBar
        left={290}
        top={660}
        width={110}
        height={200}
        margin={{ top: 23, right: 48, bottom: 84, left: 10 }}
        axisWidth={40}
        steps={orangeSteps}
        max={1}
        ticks={scoreTicks}
        fmt={fmt1}
        label="Confidence score"
        labelOffset={9}
        tickSize={3}
        tickMargin={2}
        tickFont={11}
        labelFont={11}
        legend={
          <Legend
            verticalAlign="middle"
            align="center"
            layout="horizontal"
            wrapperStyle={{ left: 2, top: 130, width: 106, height: 42 }}
            content={() => <SwatchLegend items={carcLegendItems} w={106} h={42} fontSize={10.5} sw={13} rowH={16} padTop={4} padLeft={5} textGap={7} />}
          />
        }
      />
      <ScoreHeatmap plotLeft={443.3} plotW={95} names={samples3day} scores={scoresGC3} steps={blueRedSteps} showLabels />
      <ScoreHeatmap plotLeft={551.7} plotW={96.6} names={samples14day} scores={scoresGC14} steps={blueRedSteps} showLabels={false} />
      <ColorBar
        left={650}
        top={660}
        width={100}
        height={200}
        margin={{ top: 23, right: 39, bottom: 84, left: 10 }}
        axisWidth={40}
        steps={blueRedSteps}
        max={1}
        ticks={scoreTicks}
        fmt={fmt1}
        label="Confidence score"
        labelOffset={7}
        tickSize={3}
        tickMargin={2}
        tickFont={11}
        labelFont={11}
        legend={
          <Legend
            verticalAlign="middle"
            align="center"
            layout="horizontal"
            wrapperStyle={{ left: 2, top: 128, width: 95, height: 39 }}
            content={() => <SwatchLegend items={genoLegendItems} w={95} h={39} fontSize={10.5} sw={14} rowH={16} padTop={3} padLeft={8} textGap={4} />}
          />
        }
      />

      {/* Text overlays */}
      <Txt x={7.5} y={9} size={14}>A</Txt>
      <Txt x={201} y={8} size={12} bold>PCA plot of 3-day GC vs. NGC signature</Txt>
      <Txt x={390} y={9} size={14}>B</Txt>
      <Txt x={586} y={8} size={12} bold>PCA plot of 14-day GC vs. NGC signature</Txt>
      <Txt x={9} y={302} size={14}>C</Txt>
      <Txt x={312} y={309} size={12} bold>Heatmap plot of 14-day GC vs. NGC signature</Txt>
      <Txt x={554} y={330} size={10.5} bold anchor="start">Class annotation</Txt>
      <Txt x={6} y={670} size={14}>D</Txt>
      <Txt x={371} y={672} size={14}>E</Txt>
      <Txt x={114} y={673} size={10} bold>3-day C vs. NC signature</Txt>
      <Txt x={260} y={673} size={10} bold>14-day C vs. NC signature</Txt>
      <Txt x={468} y={673} size={10} bold>3-day GC vs. NGC signature</Txt>
      <Txt x={626} y={673} size={10} bold>14-day GC vs. NGC signature</Txt>
    </div>
  );
}
